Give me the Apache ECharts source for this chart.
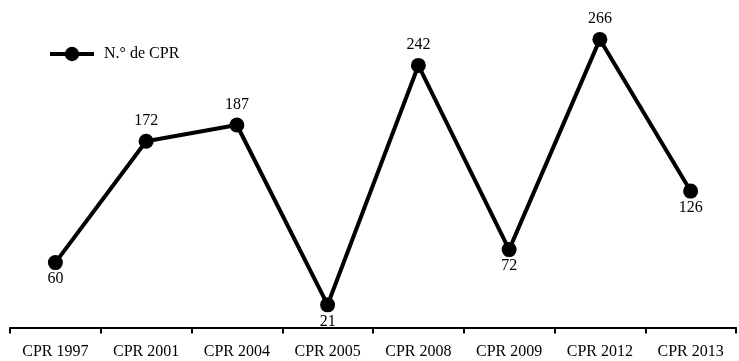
<!DOCTYPE html>
<html>
<head>
<meta charset="utf-8">
<script src="https://cdn.jsdelivr.net/npm/echarts@6/dist/echarts.min.js"></script>
<style>html,body{margin:0;padding:0;background:#fff;}#c{width:739px;height:361px;}</style>
</head>
<body>
<div id="c"></div>
<script>
const categories = ['CPR 1997','CPR 2001','CPR 2004','CPR 2005','CPR 2008','CPR 2009','CPR 2012','CPR 2013'];
const values = [60, 172, 187, 21, 242, 72, 266, 126];
const labelPos = ['bottom','top','top','bottom','top','bottom','top','bottom'];
const seriesName = 'N.° de CPR';
const font = '"Liberation Serif", "Times New Roman", serif';

const chart = echarts.init(document.getElementById('c'));
chart.setOption({
  animation: false,
  backgroundColor: '#fff',
  legend: {
    left: 43, top: 41,
    itemWidth: 44, itemHeight: 18, itemGap: 10,
    lineStyle: { width: 4, color: '#000' },
    itemStyle: { color: '#000' },
    textStyle: { fontFamily: font, fontSize: 16, color: '#000', padding: [0, 0, 0, 5] },
    data: [seriesName]
  },
  grid: { left: 10, right: 3, top: 21, bottom: 28, containLabel: false },
  xAxis: {
    type: 'category', data: categories, boundaryGap: true,
    axisLine: { lineStyle: { color: '#000', width: 2 } },
    axisTick: { show: true, inside: false, length: 6, lineStyle: { color: '#000', width: 2 } },
    axisLabel: { fontFamily: font, fontSize: 16, color: '#000', margin: 11 }
  },
  yAxis: {
    type: 'value', min: -5, max: 283, show: false, splitLine: { show: false }
  },
  series: [{
    name: seriesName, type: 'line',
    data: values.map((v, i) => ({ value: v, label: { position: labelPos[i], distance: labelPos[i] === 'top' ? 5 : 1 } })),
    symbol: 'circle', symbolSize: 15,
    lineStyle: { color: '#000', width: 4 },
    itemStyle: { color: '#000' },
    label: { show: true, fontFamily: font, fontSize: 16, color: '#000' }
  }]
});
</script>
</body>
</html>
